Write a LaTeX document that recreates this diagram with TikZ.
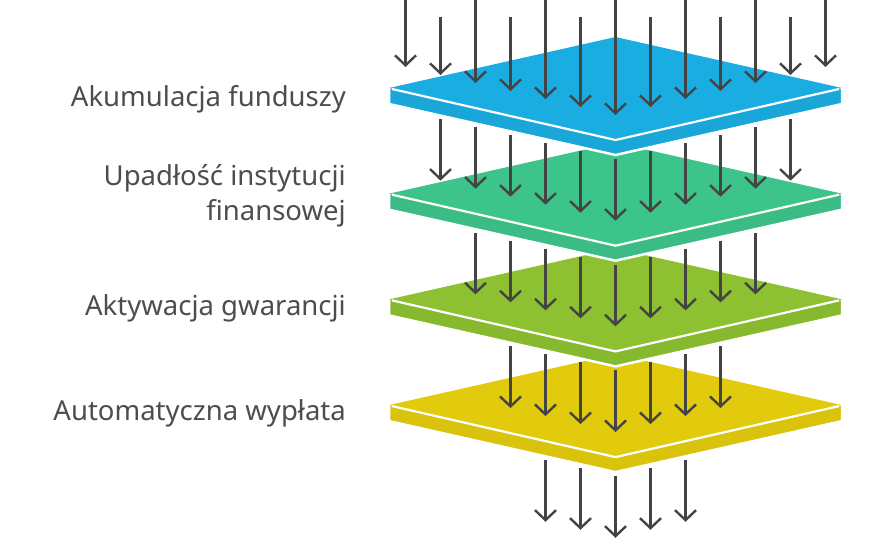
\documentclass[tikz,border=0pt]{standalone}
\usepackage{fontspec}
\setmainfont{Noto Sans}
\usetikzlibrary{arrows.meta,positioning}
\definecolor{fundblue}{HTML}{1AADE2}
\definecolor{fundgreen}{HTML}{3DC48A}
\definecolor{fundlime}{HTML}{8DC131}
\definecolor{fundyellow}{HTML}{E2CB0C}
\definecolor{arrowgray}{HTML}{444444}
\definecolor{textgray}{HTML}{4D4D4D}

\begin{document}
\begin{tikzpicture}[x=1pt,y=-1pt,
  flow/.style={draw=arrowgray, line width=2.4pt, -{Straight Barb[length=10pt,width=21pt]}},
  lbl/.style={text=textgray, font=\fontsize{27.5}{35}\selectfont, align=right, inner sep=0pt}]
\useasboundingbox (0,0) rectangle (880,540);

% plates, lowest first
\foreach \c/\col in {405.1/fundyellow,299.4/fundlime,193.7/fundgreen,88/fundblue}{
  \filldraw[fill=\col!96!black, draw=white, line width=2.5pt] (389,\c) -- (615.5,\c-51) -- (842,\c) -- (842,\c+16) -- (615.5,\c+67) -- (389,\c+16) -- cycle;
  \fill[\col] (389,\c) -- (615.5,\c-51) -- (842,\c) -- (615.5,\c+51) -- cycle;
  \draw[white, line width=2.2pt] (392,\c+1) -- (615.5,\c+52) -- (839,\c+1);
}

% arrows through the plates
\foreach \s in {0,...,4}{
  \pgfmathtruncatemacro\n{6-\s}
  \foreach \i in {-\n,...,\n}{
    \pgfmathsetmacro\x{615.5+35*\i}
    \pgfmathsetmacro\tip{88+105.7*\s+27-8*abs(\i)}
    \ifnum\s=0
      \pgfmathsetmacro\start{isodd(abs(\i)) ? 17 : -4}
    \else
      \pgfmathsetmacro\start{88+105.7*(\s-1)+71-8*abs(\i)}
    \fi
    \draw[flow] (\x,\start) -- (\x,\tip);
  }
}

% labels
\node[lbl, anchor=base east] (akumulacja) at (346,107) {Akumulacja funduszy};
\node[lbl, anchor=base east] (upadlosc) at (346,220) {Upadłość instytucji\\finansowej};
\node[lbl, anchor=base east] (aktywacja) at (346,315) {Aktywacja gwarancji};
\node[lbl, anchor=base east] (wyplata) at (346,420) {Automatyczna wypłata};
\end{tikzpicture}
\end{document}
